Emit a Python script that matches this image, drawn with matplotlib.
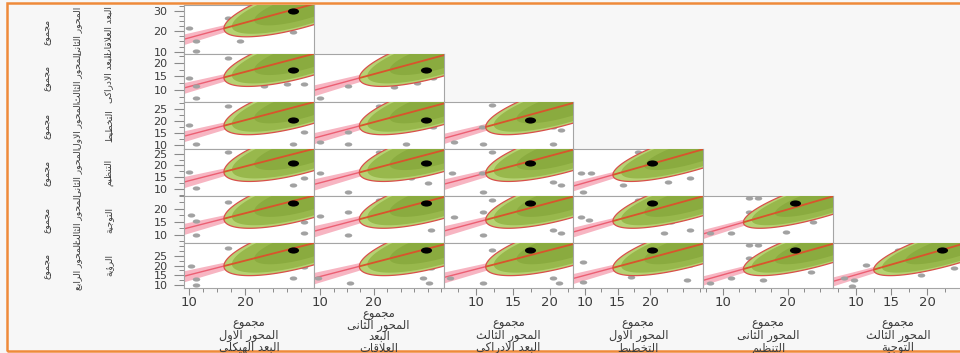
import numpy as np
import matplotlib
matplotlib.use("Agg")
import matplotlib.pyplot as plt
from matplotlib.path import Path
from matplotlib.patches import Polygon, Rectangle
from matplotlib.ticker import FixedLocator

plt.rcParams['font.family'] = ['DejaVu Sans']

# ---------------- data ----------------
col_label_lines = [
    ["مجموع", "المحور الاول", "البعد الهيكلي"],
    ["مجموع", "المحور الثانى", "البعد", "العلاقات"],
    ["مجموع", "المحور الثالث", "البعد الادراكى"],
    ["مجموع", "المحور الاول", "التخطيط"],
    ["مجموع", "المحور الثانى", "التنظيم"],
    ["مجموع", "المحور الثالث", "التوجية"],
]
row_label_lines = [
    ["مجموع", "المحور الثانى", "البعد العلاقات"],
    ["مجموع", "المحور الثالث", "البعد الادراكى"],
    ["مجموع", "المحور الاول", "التخطيط"],
    ["مجموع", "المحور الثانى", "التنظيم"],
    ["مجموع", "المحور الثالث", "التوجية"],
    ["مجموع", "المحور الرابع", "الرؤية"],
]

# variables 0..6 (7 variables); columns use 0..5, rows use 1..6
axis_lo = [9.1, 8.8, 5.6, 8.3, 7.0, 6.8, 8.4]
axis_hi = [32.2, 33.0, 23.2, 28.0, 27.0, 25.0, 31.7]
x_tick_labels = [[10, 20], [10, 20], [10, 15, 20], [10, 15, 20], [10, 20], [10, 15, 20]]
y_tick_labels = [[10, 20, 30], [10, 15, 20], [10, 15, 20, 25], [10, 15, 20, 25],
                 [10, 15, 20], [10, 15, 20, 25]]

var_means = [30.4, 32.15, 22.3, 26.85, 25.97, 24.13, 30.3]
var_sds = [5.80, 6.07, 4.49, 5.13, 5.22, 4.75, 6.33]
n_obs = 150
highlight_obs = [28.5, 29.8, 17.3, 20.3, 21.1, 22.1, 27.9]

corr_row0 = [0.72]
corr_row1 = [0.70, 0.72]
corr_row2 = [0.70, 0.71, 0.74]
corr_row3 = [0.68, 0.70, 0.72, 0.78]
corr_row4 = [0.68, 0.70, 0.72, 0.76, 0.80]
corr_row5 = [0.68, 0.69, 0.70, 0.74, 0.78, 0.80]

# visible individual observations per panel (x = column variable, y = row variable)
r0c0_x = [10.0, 11.3, 11.3, 16.9, 19.1, 28.5]
r0c0_y = [21.4, 15.3, 10.2, 26.4, 15.3, 19.8]
r1c0_x = [10.0, 11.3, 11.3, 16.9, 23.3, 27.5, 30.4]
r1c0_y = [14.3, 11.3, 6.9, 21.7, 11.3, 12.1, 12.1]
r2c0_x = [10.0, 11.3, 16.9, 28.5, 30.5]
r2c0_y = [18.5, 10.2, 26.3, 10.6, 15.6]
r3c0_x = [10.0, 11.3, 16.9, 28.5, 30.5]
r3c0_y = [17.4, 10.6, 25.8, 11.8, 14.8]
r4c0_x = [10.3, 11.3, 11.3, 16.9, 30.4, 30.4]
r4c0_y = [17.7, 15.4, 10.0, 22.7, 15.0, 10.8]
r5c0_x = [10.3, 11.3, 11.3, 16.9, 28.5, 30.4]
r5c0_y = [19.8, 13.1, 10.1, 29.0, 13.6, 19.3]
r1c1_x = [10.0, 15.2, 21.2, 23.7, 28.1, 31.1]
r1c1_y = [6.9, 11.3, 20.2, 11.0, 12.5, 14.3]
r2c1_x = [10.0, 15.2, 15.2, 20.9, 25.9, 31.1]
r2c1_y = [11.4, 15.6, 10.2, 26.3, 10.2, 17.6]
r3c1_x = [10.0, 15.2, 20.9, 27.0, 30.0]
r3c1_y = [16.9, 8.5, 25.8, 14.8, 12.7]
r4c1_x = [10.0, 15.2, 15.2, 20.9, 30.6]
r4c1_y = [17.3, 18.8, 10.0, 23.5, 11.9]
r5c1_x = [9.6, 15.6, 20.9, 29.1, 30.2, 30.6]
r5c1_y = [13.6, 11.1, 27.9, 13.6, 11.1, 18.7]
r2c2_x = [7.0, 11.0, 12.1, 10.8, 20.5, 21.5, 20.5]
r2c2_y = [11.4, 10.2, 26.8, 17.6, 17.6, 16.4, 10.2]
r3c2_x = [6.7, 11.0, 12.1, 20.5, 21.5, 10.8]
r3c2_y = [16.9, 8.5, 25.8, 13.1, 11.8, 16.9]
r4c2_x = [7.0, 11.0, 12.1, 20.5, 21.5, 11.0]
r4c2_y = [16.9, 10.0, 23.5, 11.9, 10.8, 18.8]
r5c2_x = [6.5, 11.0, 12.1, 20.5, 21.2, 21.5]
r5c2_y = [13.6, 11.1, 27.9, 13.6, 11.1, 20.3]
r3c3_x = [9.5, 11.0, 9.8, 15.8, 18.1, 22.6, 26.0]
r3c3_y = [16.9, 16.9, 8.5, 11.8, 25.8, 13.1, 14.8]
r4c3_x = [9.5, 10.6, 16.0, 18.1, 22.0, 23.1, 26.0]
r4c3_y = [16.9, 15.8, 18.5, 23.5, 10.8, 15.0, 11.9]
r5c3_x = [9.8, 9.8, 17.0, 23.1, 26.0, 25.6]
r5c3_y = [21.8, 11.6, 14.2, 22.8, 20.3, 12.6]
r4c4_x = [8.0, 11.3, 14.1, 15.5, 14.1, 19.8, 23.9]
r4c4_y = [10.8, 10.8, 24.2, 24.2, 18.8, 11.2, 15.0]
r5c4_x = [8.0, 11.3, 14.1, 15.5, 14.1, 16.2, 23.9, 23.6]
r5c4_y = [11.1, 13.6, 30.5, 30.5, 23.8, 12.6, 20.3, 16.7]
r5c5_x = [8.3, 9.8, 9.4, 11.4, 15.9, 19.1, 23.0, 23.7]
r5c5_y = [13.6, 12.6, 9.6, 20.3, 27.9, 15.2, 22.8, 18.7]

corr_rows = [corr_row0, corr_row1, corr_row2, corr_row3, corr_row4, corr_row5]
panel_points = {
    (0, 0): (r0c0_x, r0c0_y),
    (1, 0): (r1c0_x, r1c0_y), (1, 1): (r1c1_x, r1c1_y),
    (2, 0): (r2c0_x, r2c0_y), (2, 1): (r2c1_x, r2c1_y), (2, 2): (r2c2_x, r2c2_y),
    (3, 0): (r3c0_x, r3c0_y), (3, 1): (r3c1_x, r3c1_y), (3, 2): (r3c2_x, r3c2_y),
    (3, 3): (r3c3_x, r3c3_y),
    (4, 0): (r4c0_x, r4c0_y), (4, 1): (r4c1_x, r4c1_y), (4, 2): (r4c2_x, r4c2_y),
    (4, 3): (r4c3_x, r4c3_y), (4, 4): (r4c4_x, r4c4_y),
    (5, 0): (r5c0_x, r5c0_y), (5, 1): (r5c1_x, r5c1_y), (5, 2): (r5c2_x, r5c2_y),
    (5, 3): (r5c3_x, r5c3_y), (5, 4): (r5c4_x, r5c4_y), (5, 5): (r5c5_x, r5c5_y),
}

# ---------------- Arabic shaping (presentation forms, visual order) ----------------
AR_FORMS = {
    'ء': (0xFE80, None, None, None),
    'آ': (0xFE81, 0xFE82, None, None),
    'أ': (0xFE83, 0xFE84, None, None),
    'ؤ': (0xFE85, 0xFE86, None, None),
    'إ': (0xFE87, 0xFE88, None, None),
    'ا': (0xFE8D, 0xFE8E, None, None),
    'ب': (0xFE8F, 0xFE90, 0xFE91, 0xFE92),
    'ة': (0xFE93, 0xFE94, None, None),
    'ت': (0xFE95, 0xFE96, 0xFE97, 0xFE98),
    'ث': (0xFE99, 0xFE9A, 0xFE9B, 0xFE9C),
    'ج': (0xFE9D, 0xFE9E, 0xFE9F, 0xFEA0),
    'ح': (0xFEA1, 0xFEA2, 0xFEA3, 0xFEA4),
    'خ': (0xFEA5, 0xFEA6, 0xFEA7, 0xFEA8),
    'د': (0xFEA9, 0xFEAA, None, None),
    'ذ': (0xFEAB, 0xFEAC, None, None),
    'ر': (0xFEAD, 0xFEAE, None, None),
    'ز': (0xFEAF, 0xFEB0, None, None),
    'س': (0xFEB1, 0xFEB2, 0xFEB3, 0xFEB4),
    'ش': (0xFEB5, 0xFEB6, 0xFEB7, 0xFEB8),
    'ص': (0xFEB9, 0xFEBA, 0xFEBB, 0xFEBC),
    'ض': (0xFEBD, 0xFEBE, 0xFEBF, 0xFEC0),
    'ط': (0xFEC1, 0xFEC2, 0xFEC3, 0xFEC4),
    'ظ': (0xFEC5, 0xFEC6, 0xFEC7, 0xFEC8),
    'ع': (0xFEC9, 0xFECA, 0xFECB, 0xFECC),
    'غ': (0xFECD, 0xFECE, 0xFECF, 0xFED0),
    'ف': (0xFED1, 0xFED2, 0xFED3, 0xFED4),
    'ق': (0xFED5, 0xFED6, 0xFED7, 0xFED8),
    'ك': (0xFED9, 0xFEDA, 0xFEDB, 0xFEDC),
    'ل': (0xFEDD, 0xFEDE, 0xFEDF, 0xFEE0),
    'م': (0xFEE1, 0xFEE2, 0xFEE3, 0xFEE4),
    'ن': (0xFEE5, 0xFEE6, 0xFEE7, 0xFEE8),
    'ه': (0xFEE9, 0xFEEA, 0xFEEB, 0xFEEC),
    'و': (0xFEED, 0xFEEE, None, None),
    'ى': (0xFEEF, 0xFEF0, None, None),
    'ي': (0xFEF1, 0xFEF2, 0xFEF3, 0xFEF4),
}
LAM_ALEF = {'آ': (0xFEF5, 0xFEF6), 'أ': (0xFEF7, 0xFEF8),
            'إ': (0xFEF9, 0xFEFA), 'ا': (0xFEFB, 0xFEFC)}


def shape_ar(text):
    units = []
    i = 0
    while i < len(text):
        ch = text[i]
        if ch == 'ل' and i + 1 < len(text) and text[i + 1] in LAM_ALEF:
            units.append(('LA', text[i + 1]))
            i += 2
        else:
            units.append(('C', ch))
            i += 1

    def joins_left(u):
        if u[0] == 'LA':
            return False
        f = AR_FORMS.get(u[1])
        return f is not None and f[2] is not None

    def joins_right(u):
        if u[0] == 'LA':
            return True
        f = AR_FORMS.get(u[1])
        return f is not None and f[1] is not None

    out = []
    for j, u in enumerate(units):
        prev = units[j - 1] if j > 0 else None
        nxt = units[j + 1] if j + 1 < len(units) else None
        jp = prev is not None and joins_left(prev) and joins_right(u)
        if u[0] == 'LA':
            out.append(chr(LAM_ALEF[u[1]][1 if jp else 0]))
            continue
        f = AR_FORMS.get(u[1])
        if f is None:
            out.append(u[1])
            continue
        jn = nxt is not None and f[2] is not None and joins_right(nxt)
        if jp and jn:
            out.append(chr(f[3]))
        elif jp:
            out.append(chr(f[1]))
        elif jn:
            out.append(chr(f[2]))
        else:
            out.append(chr(f[0]))
    return ''.join(reversed(out))


# ---------------- figure ----------------
W, H = 960, 353
fig = plt.figure(figsize=(W / 100, H / 100), dpi=100, facecolor='#f7f7f7')

col_left = [184.0 + 129.8 * i for i in range(6)]
col_w = 129.8
row_top = [5, 54, 102, 149, 196, 243]
row_bot = [54, 102, 149, 196, 243, 288]

circ = Path.unit_circle()
dash_marker = Path(circ.vertices * np.array([1.8, 1.0]), circ.codes)

K95 = 2.4477
TXT = '#3c3c3c'
TICKC = '#8a8a8a'


def ellipse_xy(mx, my, sx, sy, r, k):
    t = np.linspace(0, 2 * np.pi, 361)
    ex = mx + k * sx * np.cos(t)
    ey = my + k * sy * (r * np.cos(t) + np.sqrt(1 - r * r) * np.sin(t))
    return np.column_stack([ex, ey])


def minor_list(lo, hi, step):
    start = np.ceil(lo / step) * step
    return list(np.arange(start, hi + 1e-9, step))


for ri in range(6):
    for ci in range(ri + 1):
        vx, vy = ci, ri + 1
        x0 = col_left[ci]
        y0, y1 = row_top[ri], row_bot[ri]
        ax = fig.add_axes([x0 / W, 1 - y1 / H, col_w / W, (y1 - y0) / H])
        ax.set_facecolor('white')
        ax.set_xlim(axis_lo[vx], axis_hi[vx])
        ax.set_ylim(axis_lo[vy], axis_hi[vy])
        for sp in ax.spines.values():
            sp.set_color('#a5a5a5')
            sp.set_linewidth(0.8)

        r = corr_rows[ri][ci]
        mx, my = var_means[vx], var_means[vy]
        sx, sy = var_sds[vx], var_sds[vy]
        slope = r * sy / sx
        xs = np.linspace(axis_lo[vx], axis_hi[vx], 200)
        yfit = my + slope * (xs - mx)
        band = 1.98 * sy * np.sqrt(1 - r * r) * np.sqrt(1.0 / n_obs + (xs - mx) ** 2 / ((n_obs - 1) * sx ** 2))
        ax.fill_between(xs, yfit - band, yfit + band, color='#f7b5c2', lw=0, zorder=1)
        ax.plot(xs, yfit, color='#ec5f73', lw=1.0, zorder=1.5)

        px, py = panel_points[(ri, ci)]
        ax.plot(px, py, ls='none', marker=dash_marker, ms=5.4, mfc='#a2a2a2',
                mec='#a2a2a2', mew=0, zorder=2)

        outer = Polygon(ellipse_xy(mx, my, sx, sy, r, K95), closed=True,
                        fc='#b6d273', ec='none', zorder=3)
        ax.add_patch(outer)
        inner = Polygon(ellipse_xy(mx, my, sx, sy, r, K95 * 0.9), closed=True,
                        fc='#98b84c', ec='none', zorder=3.1)
        ax.add_patch(inner)
        core = Polygon(ellipse_xy(mx, my, sx, sy, r, K95 * 0.62), closed=True,
                       fc='#8aab3f', ec='none', zorder=3.2)
        ax.add_patch(core)
        edge = Polygon(ellipse_xy(mx, my, sx, sy, r, K95), closed=True,
                       fill=False, ec='#d8504a', lw=0.9, zorder=3.5)
        ax.add_patch(edge)
        ln, = ax.plot(xs, yfit, color='#d9542c', lw=1.3, zorder=3.6)
        ln.set_clip_path(outer)

        ax.plot([highlight_obs[vx]], [highlight_obs[vy]], ls='none', marker=dash_marker,
                ms=8, mfc='black', mec='black', mew=0, zorder=6)

        # ticks
        if ri == 5:
            ax.xaxis.set_major_locator(FixedLocator(x_tick_labels[ci]))
            ax.xaxis.set_minor_locator(FixedLocator(minor_list(axis_lo[vx], axis_hi[vx], 2.5)))
            ax.set_xticklabels([str(v) for v in x_tick_labels[ci]])
            ax.tick_params(axis='x', which='major', length=5, width=0.8, color=TICKC,
                           pad=1.0, labelsize=9.5, labelcolor=TXT)
            ax.tick_params(axis='x', which='minor', length=3, width=0.7, color=TICKC)
        else:
            ax.set_xticks([])
            ax.xaxis.set_minor_locator(FixedLocator([]))
        if ci == 0:
            ax.yaxis.set_major_locator(FixedLocator(y_tick_labels[ri]))
            ax.yaxis.set_minor_locator(FixedLocator(minor_list(axis_lo[vy], axis_hi[vy], 2.5)))
            ax.set_yticklabels([str(v) for v in y_tick_labels[ri]])
            ax.tick_params(axis='y', which='major', length=7, width=0.8, color=TICKC,
                           pad=5, labelsize=8, labelcolor=TXT)
            ax.tick_params(axis='y', which='minor', length=3.5, width=0.7, color=TICKC)
        else:
            ax.set_yticks([])
            ax.yaxis.set_minor_locator(FixedLocator([]))

# column labels (bottom aligned)
for ci in range(6):
    lines = col_label_lines[ci]
    cx = col_left[ci] + col_w / 2
    n = len(lines)
    step = 11.2 if n > 3 else 12.0
    for li, s in enumerate(lines):
        ypx = 348.0 - (n - 1 - li) * step
        fig.text(cx / W, 1 - ypx / H, shape_ar(s), ha='center', va='center',
                 fontsize=8.3, color=TXT)

# row labels (rotated)
row_line_x = [47, 78, 109]
for ri in range(6):
    cy = (row_top[ri] + row_bot[ri]) / 2
    if ri == 0:
        cy += 2
    for li, s in enumerate(row_label_lines[ri]):
        fig.text(row_line_x[li] / W, 1 - cy / H, shape_ar(s), ha='center', va='center',
                 rotation=90, fontsize=6.6, color=TXT)

# orange frame of the screenshot
fig.add_artist(Rectangle((7 / W, 1 - 351 / H), (980 - 7) / W, (351 - 3) / H,
                         transform=fig.transFigure, fill=False, ec='#ef8a3a', lw=1.8))

fig.savefig('out.png', dpi=100, facecolor=fig.get_facecolor())
